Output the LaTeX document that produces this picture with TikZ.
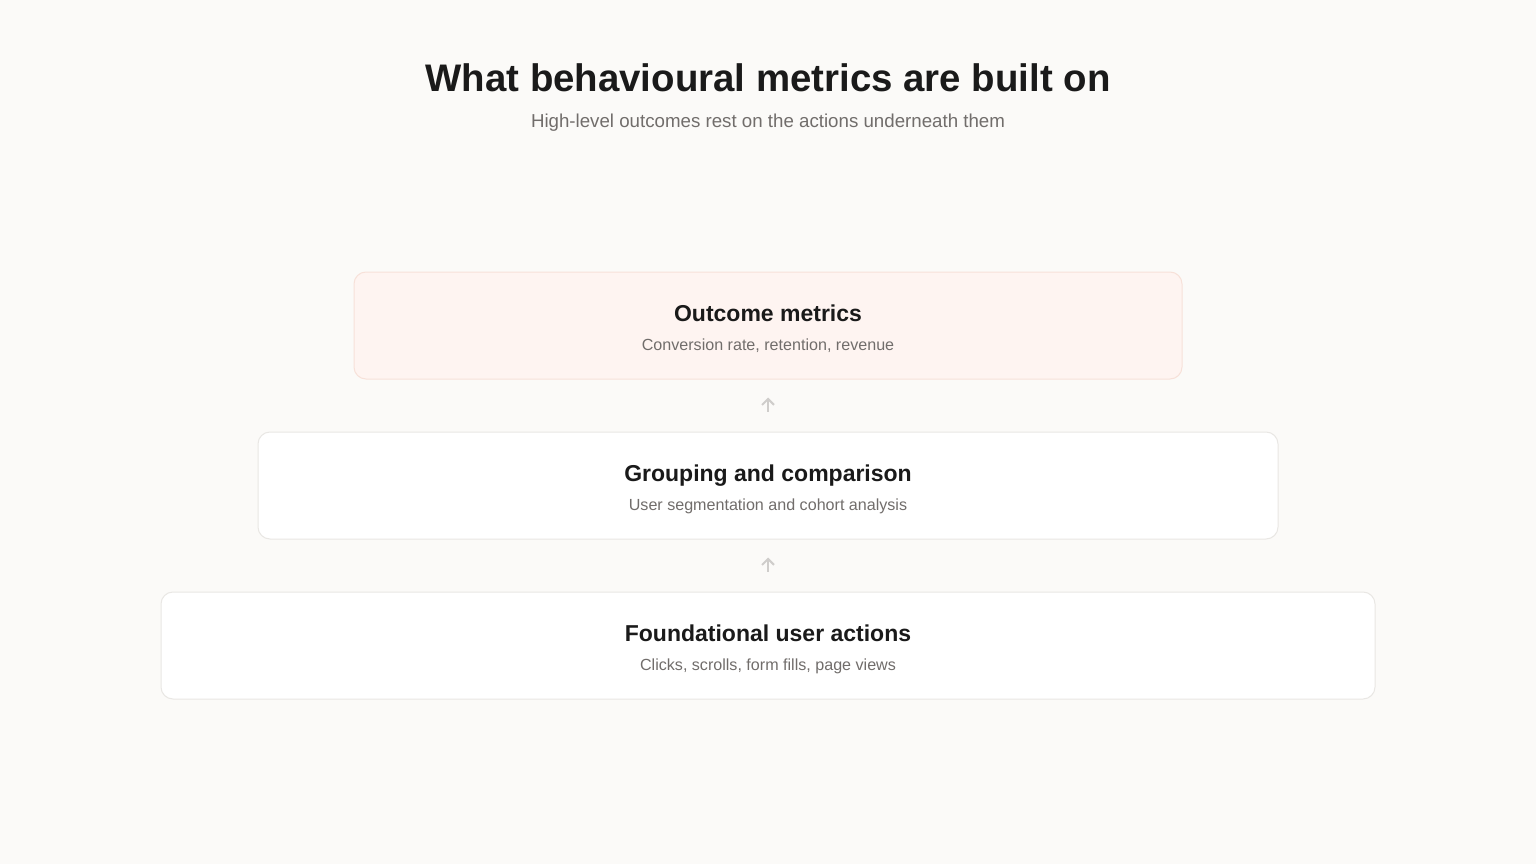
\documentclass[tikz,border=0pt]{standalone}
\usepackage{fontspec}
\setmainfont{Liberation Sans}
\usetikzlibrary{arrows.meta}
\definecolor{pagebg}{HTML}{FBFAF8}
\definecolor{inkdark}{HTML}{1A1A1A}
\definecolor{inkgrey}{HTML}{716D6B}
\definecolor{warmfill}{HTML}{FEF4F1}
\definecolor{warmline}{HTML}{F7E1D9}
\definecolor{boxline}{HTML}{E9E7E4}
\definecolor{arrowgrey}{HTML}{CFCDCB}
\tikzset{
  layer/.style={draw=boxline, fill=white, line width=1pt, rounded corners=12pt, minimum height=107pt, inner sep=0pt},
  layertitle/.style={anchor=base, text=inkdark, font=\fontsize{23}{28}\selectfont\bfseries},
  layernote/.style={anchor=base, text=inkgrey, font=\fontsize{16.1}{20}\selectfont},
  liftarrow/.style={draw=arrowgrey, line width=2pt, -{Straight Barb[length=6pt,width=12pt]}}
}
\begin{document}
\begin{tikzpicture}[x=1pt, y=-1pt]
                \fill[pagebg] (0,0) rectangle (1536,864);
                \useasboundingbox (0,0) rectangle (1536,864);
                \node[anchor=base, text=inkdark, font=\fontsize{38.4}{46}\selectfont\bfseries] (title) at (768,92) {What behavioural metrics are built on};
                \node[anchor=base, text=inkgrey, font=\fontsize{18.7}{22}\selectfont] (subtitle) at (768,128) {High-level outcomes rest on the actions underneath them};
                % three layers, top one tinted
                \node[layer, draw=warmline, fill=warmfill, minimum width=828pt] (outcome) at (768,325.5) {};
                \node[layer, minimum width=1020pt] (grouping) at (768,485.5) {};
                \node[layer, minimum width=1214pt] (actions) at (768,645.5) {};
                \node[layertitle] (outcometitle) at (768,321) {Outcome metrics};
                \node[layernote] (outcomenote) at (768,350) {Conversion rate, retention, revenue};
                \node[layertitle] (groupingtitle) at (768,481) {Grouping and comparison};
                \node[layernote] (groupingnote) at (768,510) {User segmentation and cohort analysis};
                \node[layertitle] (actionstitle) at (768,641) {Foundational user actions};
                \node[layernote] (actionsnote) at (768,670) {Clicks, scrolls, form fills, page views};
                % arrows between the layers
                \draw[liftarrow] ([yshift=20pt]grouping.north) -- ([yshift=-18pt]outcome.south);
                \draw[liftarrow] ([yshift=20pt]actions.north) -- ([yshift=-18pt]grouping.south);
            \end{tikzpicture}
\end{document}
